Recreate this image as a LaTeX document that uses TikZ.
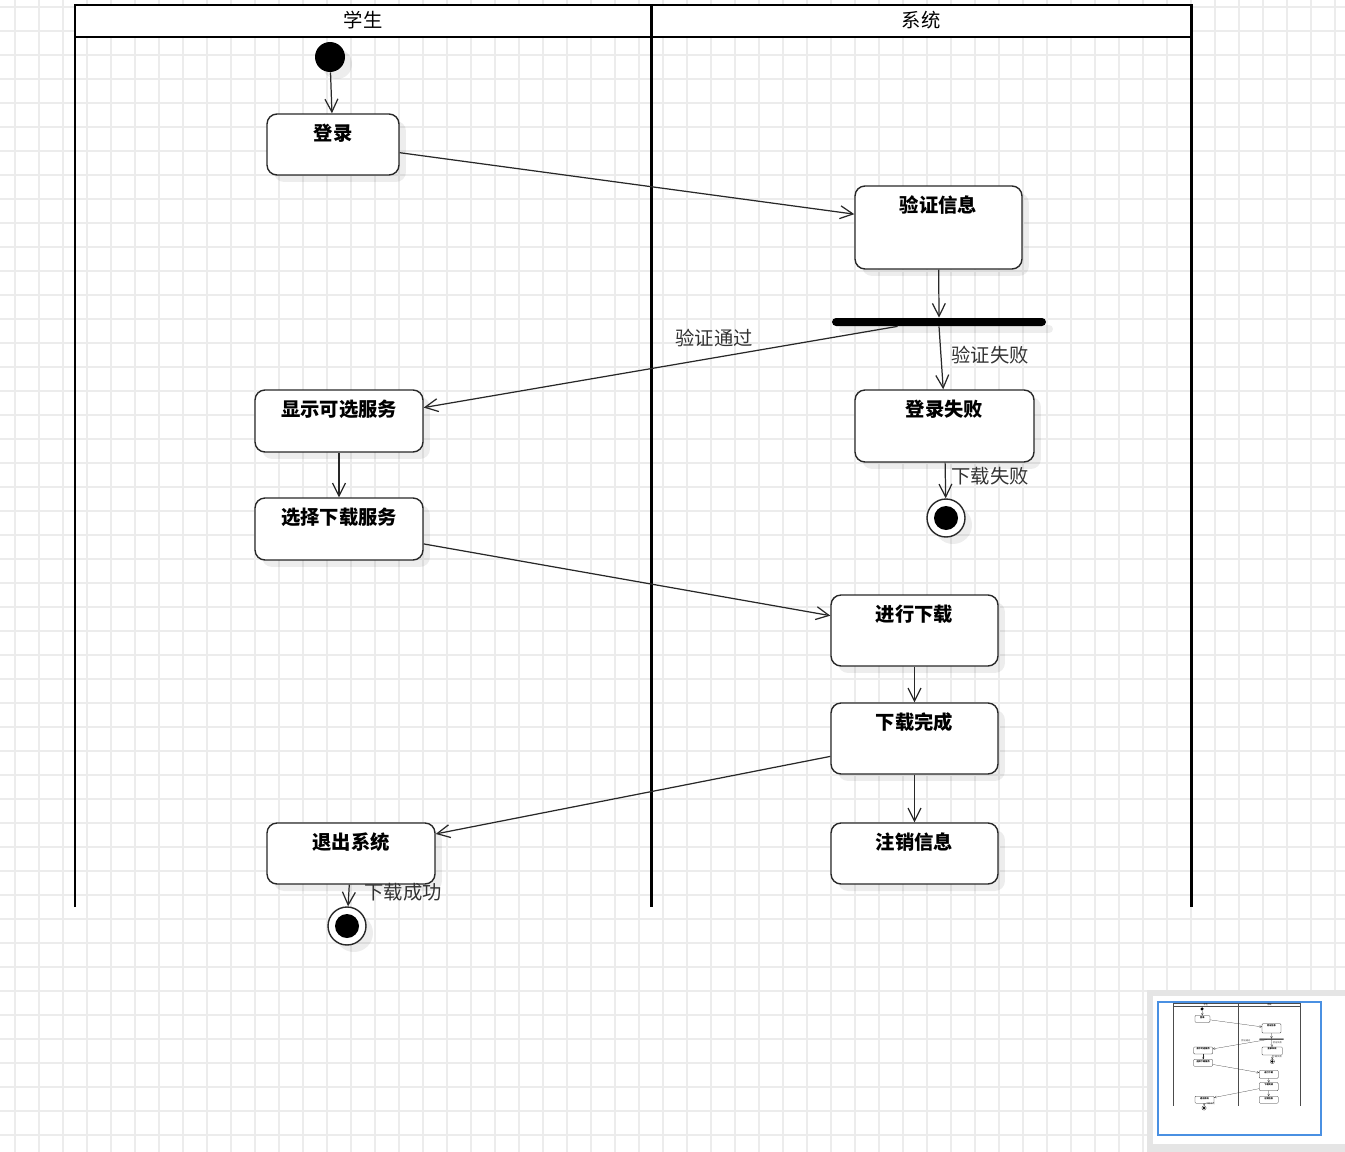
\documentclass[tikz,border=0pt]{standalone}
\usepackage{fontspec}
\setmainfont{Noto Sans CJK SC}
\usetikzlibrary{arrows.meta,shadows}

\definecolor{gridgrey}{RGB}{236,236,236}
\definecolor{boxline}{RGB}{40,40,40}
\definecolor{mapblue}{RGB}{74,144,226}

\tikzset{
  gridline/.style={gridgrey, line width=1pt},
  lane/.style={black, line width=1.7pt},
  lanetitle/.style={font=\fontsize{11}{13}\selectfont},
  softshadow/.style={drop shadow={shadow xshift=0.14cm, shadow yshift=-0.14cm, fill=black, opacity=0.07}},
  actbox/.style={draw=boxline, line width=0.8pt, rounded corners=0.2cm, fill=white, softshadow},
  acttext/.style={anchor=north, yshift=-0.09cm, font=\fontsize{11}{13}\selectfont\bfseries},
  flow/.style={draw=boxline, line width=0.7pt, -{Straight Barb[length=0pt 10.5, width=0pt 10.5]}},
  flowtext/.style={font=\fontsize{11}{13}\selectfont, text=black!80},
  startdot/.style={circle, fill=black, minimum size=0.6cm, inner sep=0pt, softshadow},
  endring/.style={circle, draw=boxline, line width=0.8pt, fill=white, minimum size=0.76cm, inner sep=0pt, softshadow},
  forkbar/.style={fill=black, rounded corners=0.08cm, minimum width=4.28cm, minimum height=0.16cm, inner sep=0pt, softshadow}
}

% the whole activity chart, in pixel units
\newcommand\activitychart{%
  % swimlanes
  \fill[white] (75,5) rectangle (1191,37);
  \draw[lane] (75,907) -- (75,5) -- (1191,5) -- (1191,907);
  \draw[lane] (651,5) -- (651,907);
  \draw[lane] (75,37) -- (1191,37);
  \node[lanetitle] (student) at (363,20) {学生};
  \node[lanetitle] (system) at (921,20) {系统};
  % states
  \node[startdot] (start) at (330,57) {};
  \node[actbox, minimum width=2.64cm, minimum height=1.22cm, label={[acttext]north:登录}] (login) at (333,144.5) {};
  \node[actbox, minimum width=3.34cm, minimum height=1.66cm, label={[acttext]north:验证信息}] (verify) at (938.5,227.5) {};
  \node[forkbar] (bar) at (939,322) {};
  \node[actbox, minimum width=3.58cm, minimum height=1.44cm, label={[acttext]north:登录失败}] (fail) at (944.5,426) {};
  \node[endring] (end1) at (946,518) {};
  \fill[black] (end1) circle (12);
  \node[actbox, minimum width=3.36cm, minimum height=1.24cm, label={[acttext]north:显示可选服务}] (show) at (339,421) {};
  \node[actbox, minimum width=3.36cm, minimum height=1.24cm, label={[acttext]north:选择下载服务}] (choose) at (339,529) {};
  \node[actbox, minimum width=3.34cm, minimum height=1.42cm, label={[acttext]north:进行下载}] (dl) at (914.5,630.5) {};
  \node[actbox, minimum width=3.34cm, minimum height=1.42cm, label={[acttext]north:下载完成}] (done) at (914.5,738.5) {};
  \node[actbox, minimum width=3.34cm, minimum height=1.22cm, label={[acttext]north:注销信息}] (logout) at (914.5,853.5) {};
  \node[actbox, minimum width=3.36cm, minimum height=1.22cm, label={[acttext]north:退出系统}] (quit) at (351,853.5) {};
  \node[endring] (end2) at (347,926) {};
  \fill[black] (end2) circle (12);
  % transitions
  \draw[flow] (start) -- (login);
  \draw[flow] (login.-7) -- (verify.171);
  \draw[flow] (verify) -- (bar);
  \draw[flow] (bar.186) -- (show.9);
  \draw[flow] (bar.south) -- (fail.92);
  \draw[flow] (fail) -- (end1);
  \draw[flow] (show) -- (choose);
  \draw[flow] (choose.-10) -- (dl.170);
  \draw[flow] (dl) -- (done);
  \draw[flow] (done) -- (logout);
  \draw[flow] (done.192) -- (quit.13);
  \draw[flow] (quit) -- (end2);
  % guards
  \node[flowtext] (okLbl) at (714,338) {验证通过};
  \node[flowtext] (failLbl) at (990,355) {验证失败};
  \node[flowtext] (dlFailLbl) at (990,476) {下载失败};
  \node[flowtext] (dlOkLbl) at (403,892) {下载成功};
}

\begin{document}
\begin{tikzpicture}[x=0.02cm, y=-0.02cm]
  \useasboundingbox (0,0) rectangle (1345,1152);
  \fill[white] (0,0) rectangle (1345,1152);
  % page grid
  \foreach \gx in {15,39,...,1335}
    {\draw[gridline] (\gx,0) -- (\gx,1152);}
  \foreach \gy in {7,31,...,1151}
    {\draw[gridline] (0,\gy) -- (1345,\gy);}

  \activitychart

  % outline panel
  \fill[black!10] (1147,990) rectangle (1345,1152);
  \fill[white] (1153,996) rectangle (1345,1144);
  \begin{scope}[shift={(1164.45,1002.43)}, scale=0.114, transform shape,
      softshadow/.style={},
      lane/.append style={line width=0.4pt, black!70},
      actbox/.append style={line width=0.15pt, rounded corners=0.02cm},
      forkbar/.append style={rounded corners=0.005cm},
      endring/.append style={line width=0.15pt},
      flow/.append style={line width=0.12pt}]
    \activitychart
  \end{scope}
  \draw[mapblue, line width=1.2pt] (1158,1002) rectangle (1321,1135);
\end{tikzpicture}
\end{document}
